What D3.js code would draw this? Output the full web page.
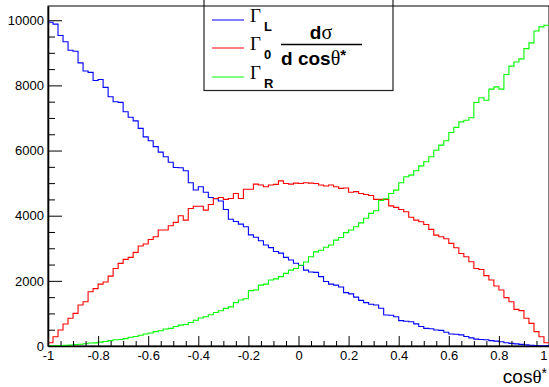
<!DOCTYPE html>
<html>
<head>
<meta charset="utf-8">
<script src="https://cdn.jsdelivr.net/npm/d3@7"></script>
<style>
  body { margin: 0; background: #fff; }
  svg { display: block; }
</style>
</head>
<body>
<svg id="chart" width="549" height="387"></svg>
<script>
// 100 bins from -1 to 1, contents
const binEdges = d3.range(101).map(i => -1 + i * 0.02);

const gammaL = [
  9940, 9880, 9530, 9340, 9080, 9050, 8690, 8440, 8400, 8150,
  8180, 7940, 7650, 7500, 7480, 7190, 7020, 6910, 6680, 6420,
  6300, 6120, 5950, 5810, 5640, 5480, 5470, 5380, 5010, 4790,
  4890, 4720, 4560, 4520, 4450, 4190, 3890, 3820, 3740, 3660,
  3410, 3340, 3230, 3100, 3020, 2900, 2850, 2720, 2640, 2540,
  2470, 2330, 2270, 2260, 2130, 1980, 1900, 1870, 1810, 1640,
  1600, 1500, 1400, 1330, 1280, 1260, 1160, 950, 945, 900,
  780, 760, 745, 680, 600, 540, 530, 490, 480, 420,
  370, 360, 340, 290, 250, 210, 200, 190, 165, 150,
  130, 100, 80, 65, 50, 35, 25, 15, 8, 3
];

const gamma0 = [
  100, 285, 490, 675, 850, 1000, 1260, 1360, 1665, 1760,
  1900, 1965, 2145, 2380, 2535, 2660, 2720, 2875, 3070, 3130,
  3270, 3355, 3560, 3560, 3690, 3795, 4000, 3865, 4220, 4290,
  4290, 4170, 4345, 4530, 4560, 4500, 4530, 4680, 4530, 4810,
  4810, 4970, 4940, 4890, 4940, 4960, 5070, 4990, 4970, 5000,
  4990, 5010, 5000, 4990, 4940, 4910, 4940, 4890, 4840, 4850,
  4720, 4740, 4680, 4650, 4620, 4500, 4500, 4500, 4300, 4255,
  4190, 4120, 3950, 3865, 3815, 3730, 3580, 3405, 3355, 3290,
  3150, 3015, 2840, 2740, 2585, 2380, 2350, 2160, 2025, 1840,
  1720, 1485, 1360, 1125, 1085, 850, 695, 440, 285, 100
];

const gammaR = [
  3, 8, 15, 25, 30, 45, 55, 70, 90, 95,
  120, 140, 165, 190, 200, 225, 270, 290, 330, 370,
  400, 440, 470, 520, 540, 600, 640, 660, 720, 790,
  860, 900, 960, 1030, 1080, 1155, 1200, 1330, 1410, 1450,
  1700, 1720, 1870, 1900, 2025, 2060, 2130, 2230, 2330, 2380,
  2480, 2580, 2740, 2890, 2940, 3030, 3100, 3250, 3330, 3480,
  3560, 3660, 3780, 3920, 4070, 4150, 4470, 4520, 4680, 4785,
  5010, 5195, 5245, 5380, 5530, 5655, 5810, 6010, 6165, 6300,
  6555, 6710, 6880, 6930, 7005, 7475, 7620, 7545, 7885, 7955,
  7885, 8335, 8590, 8720, 8815, 9130, 9305, 9670, 9795, 9845
];

const series = [
  { name: "L", values: gammaL, color: "#0000ff" },
  { name: "0", values: gamma0, color: "#ff0000" },
  { name: "R", values: gammaR, color: "#00ff00" }
];

const xMajor = [-1, -0.8, -0.6, -0.4, -0.2, 0, 0.2, 0.4, 0.6, 0.8, 1];
const xMajorLabels = ["-1", "-0.8", "-0.6", "-0.4", "-0.2", "0", "0.2", "0.4", "0.6", "0.8", "1"];
const yMajor = [0, 2000, 4000, 6000, 8000, 10000];
const yMajorLabels = ["0", "2000", "4000", "6000", "8000", "10000"];
const yMax = 10437;

const svg = d3.select("#chart");
const padL = 48, padR = 549, padT = 6, padB = 346;

const x = d3.scaleLinear().domain([-1, 1]).range([padL, padR]);
const y = d3.scaleLinear().domain([0, yMax]).range([padB, padT]);

// frame
svg.append("rect")
  .attr("x", padL).attr("y", padT)
  .attr("width", padR - padL).attr("height", padB - padT)
  .attr("fill", "none").attr("stroke", "#000").attr("stroke-width", 1);

// histograms
const line = d3.line()
  .x(d => x(d[0]))
  .y(d => y(d[1]))
  .curve(d3.curveStepAfter);

series.forEach(s => {
  const pts = s.values.map((v, i) => [binEdges[i], v]);
  pts.push([binEdges[100], s.values[99]]);
  svg.append("path")
    .attr("d", line(pts))
    .attr("fill", "none")
    .attr("stroke", s.color)
    .attr("stroke-width", 1.1);
});

// y axis
const yMinor = d3.range(0, yMax, 500).filter(v => v % 2000 !== 0);
svg.append("g")
  .attr("transform", `translate(${padL},0)`)
  .call(d3.axisLeft(y).tickValues(yMinor).tickSize(-7).tickFormat("").tickSizeOuter(0))
  .call(g => g.select(".domain").remove());
const yAxis = svg.append("g")
  .attr("transform", `translate(${padL},0)`)
  .call(d3.axisLeft(y).tickValues(yMajor).tickSize(-14).tickPadding(4)
    .tickFormat((d, i) => yMajorLabels[i]).tickSizeOuter(0));
yAxis.select(".domain").attr("stroke-width", 1.6);
yAxis.selectAll("text")
  .attr("font-family", "'Liberation Sans', Arial, sans-serif")
  .attr("font-size", 13).attr("fill", "#000");

// x axis
const xMinor = d3.range(-20, 21).map(k => k * 0.05).filter((v, k) => k % 4 !== 0);
svg.append("g")
  .attr("transform", `translate(0,${padB})`)
  .call(d3.axisBottom(x).tickValues(xMinor).tickSize(-5).tickFormat("").tickSizeOuter(0))
  .call(g => g.select(".domain").remove());
const xAxis = svg.append("g")
  .attr("transform", `translate(0,${padB})`)
  .call(d3.axisBottom(x).tickValues(xMajor).tickSize(-10).tickPadding(5)
    .tickFormat((d, i) => xMajorLabels[i]).tickSizeOuter(0));
xAxis.select(".domain").attr("stroke-width", 1.6);
xAxis.selectAll("text")
  .attr("font-family", "'Liberation Sans', Arial, sans-serif")
  .attr("font-size", 13).attr("fill", "#000");
// the last label sits on the right edge; keep it inside the picture
xAxis.selectAll("text").filter((d, i) => i === xMajor.length - 1)
  .attr("text-anchor", "end").attr("dx", -2);

// axis title
const xTitle = svg.append("text")
  .attr("x", 547).attr("y", 383)
  .attr("text-anchor", "end")
  .attr("font-family", "'Liberation Sans', Arial, sans-serif")
  .attr("font-size", 19);
xTitle.append("tspan").text("cos");
xTitle.append("tspan").attr("font-family", "'Liberation Serif', serif").text("θ");
xTitle.append("tspan").attr("font-size", 14).attr("dy", -5).text("*");

// legend
const lg = svg.append("g");
lg.append("rect")
  .attr("x", 204).attr("y", -2).attr("width", 189).attr("height", 92.5)
  .attr("fill", "#fff").attr("stroke", "#222").attr("stroke-width", 1.2);
// redraw top frame line over the legend
lg.append("line")
  .attr("x1", 204).attr("x2", 393).attr("y1", padT).attr("y2", padT)
  .attr("stroke", "#000").attr("stroke-width", 1);

const rowY = [20, 48, 77];
series.forEach((s, i) => {
  lg.append("line")
    .attr("x1", 212).attr("x2", 244)
    .attr("y1", rowY[i]).attr("y2", rowY[i])
    .attr("stroke", s.color).attr("stroke-width", 1);
  lg.append("text")
    .attr("x", 250).attr("y", rowY[i] + 2)
    .attr("font-family", "'Liberation Serif', serif")
    .attr("font-size", 19)
    .text("Γ");
  lg.append("text")
    .attr("x", 264).attr("y", rowY[i] + 11)
    .attr("font-family", "'Liberation Sans', Arial, sans-serif")
    .attr("font-weight", "bold")
    .attr("font-size", 13)
    .text(s.name);
});

// d sigma / d cos theta*
const num = lg.append("text")
  .attr("x", 321).attr("y", 39)
  .attr("text-anchor", "middle")
  .attr("font-family", "'Liberation Sans', Arial, sans-serif")
  .attr("font-size", 19);
num.append("tspan").attr("font-weight", "bold").text("d");
num.append("tspan").attr("font-family", "'Liberation Serif', serif").attr("font-size", 20).text("σ");

lg.append("line")
  .attr("x1", 281).attr("x2", 362).attr("y1", 44.5).attr("y2", 44.5)
  .attr("stroke", "#000").attr("stroke-width", 1.3);

const den = lg.append("text")
  .attr("x", 281).attr("y", 65)
  .attr("font-family", "'Liberation Sans', Arial, sans-serif")
  .attr("font-size", 19);
den.append("tspan").attr("font-weight", "bold").text("d cos");
den.append("tspan").attr("font-family", "'Liberation Serif', serif").attr("font-size", 20).text("θ");
den.append("tspan").attr("font-weight", "bold").attr("font-size", 15).attr("dy", -5).text("*");
</script>
</body>
</html>
